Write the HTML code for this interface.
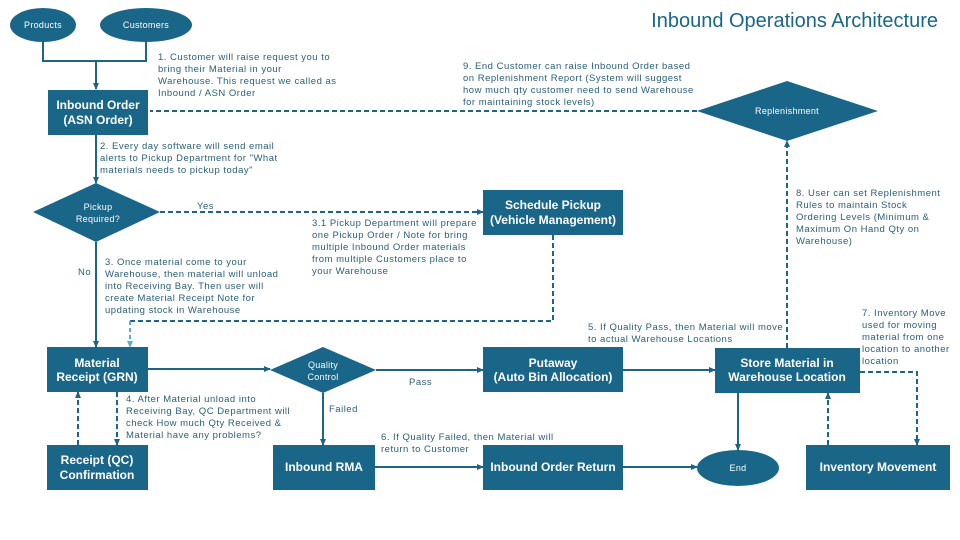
<!DOCTYPE html>
<html><head><meta charset="utf-8"><style>
body{margin:0;background:#fff}
svg{display:block;font-family:"Liberation Sans",sans-serif}
.n{fill:#1a6688}
.w{fill:#fff;font-size:9px;letter-spacing:0.3px}
.b{fill:#fff;font-size:12px;font-weight:bold;text-anchor:middle}
.t{fill:#2a5f78;font-size:9.5px;letter-spacing:0.5px}
.s{stroke:#1e6486;stroke-width:2;fill:none}
.d{stroke:#1e6486;stroke-width:2;fill:none;stroke-dasharray:5,3}
</style></head><body>
<svg width="960" height="540" viewBox="0 0 960 540">
<defs><marker id="a" markerUnits="userSpaceOnUse" markerWidth="7" markerHeight="7" refX="6" refY="3.5" orient="auto"><path d="M0,0.5L7,3.5L0,6.5z" fill="#1e6486"/></marker>
<marker id="c" markerUnits="userSpaceOnUse" markerWidth="7" markerHeight="7" refX="6" refY="3.5" orient="auto"><path d="M0,0.5L7,3.5L0,6.5z" fill="#5aaed0"/></marker></defs>
<text x="938" y="27" text-anchor="end" font-size="20" fill="#1a6688">Inbound Operations Architecture</text>
<path class="s" d="M43 42V61H146V42M96 61V89" marker-end="url(#a)"/>
<path class="d" d="M697 111H150"/>
<path class="s" d="M96 135V183" marker-end="url(#a)"/>
<path class="d" d="M160 212H483" marker-end="url(#a)"/>
<path class="d" d="M553 235V321H130"/>
<path d="M130 321V347" stroke="#5aaed0" stroke-width="2" stroke-dasharray="4,3" fill="none" marker-end="url(#c)"/>
<path class="s" d="M96 242V347" marker-end="url(#a)"/>
<path class="d" d="M78 445V392" marker-end="url(#a)"/>
<path class="d" d="M117 392V445" marker-end="url(#a)"/>
<path class="s" d="M148 369H270" marker-end="url(#a)"/>
<path class="s" d="M376 370H483" marker-end="url(#a)"/>
<path class="s" d="M323 393V445" marker-end="url(#a)"/>
<path class="s" d="M375 467H483" marker-end="url(#a)"/>
<path class="s" d="M623 467H697" marker-end="url(#a)"/>
<path class="s" d="M623 370H715" marker-end="url(#a)"/>
<path class="s" d="M738 393V450" marker-end="url(#a)"/>
<path class="d" d="M787 348V141" marker-end="url(#a)"/>
<path class="d" d="M860 372H917V445" marker-end="url(#a)"/>
<path class="d" d="M828 445V393" marker-end="url(#a)"/>
<ellipse class="n" cx="43" cy="25" rx="33" ry="17"/><text class="w" x="43" y="28" text-anchor="middle">Products</text>
<ellipse class="n" cx="146" cy="25" rx="46" ry="17"/><text class="w" x="146" y="28" text-anchor="middle">Customers</text>
<rect class="n" x="48" y="90" width="100" height="45"/><text class="b" x="98" y="109">Inbound Order</text><text class="b" x="98" y="124">(ASN Order)</text>
<polygon class="n" points="697,111 787,81 878,111 787,141"/><text class="w" x="787" y="114" text-anchor="middle">Replenishment</text>
<polygon class="n" points="33,212 96,183 160,212 96,242"/><text class="w" x="98" y="210" text-anchor="middle">Pickup</text><text class="w" x="98" y="222" text-anchor="middle">Required?</text>
<rect class="n" x="483" y="190" width="140" height="45"/><text class="b" x="553" y="209">Schedule Pickup</text><text class="b" x="553" y="224">(Vehicle Management)</text>
<rect class="n" x="47" y="347" width="101" height="45"/><text class="b" x="97" y="367" font-weight="normal">Material</text><text class="b" x="97" y="381" font-weight="normal">Receipt (GRN)</text>
<rect class="n" x="47" y="445" width="101" height="45"/><text class="b" x="97" y="464" font-weight="normal">Receipt (QC)</text><text class="b" x="97" y="479" font-weight="normal">Confirmation</text>
<polygon class="n" points="270,370 323,347 376,370 323,393"/><text class="w" x="323" y="368" text-anchor="middle">Quality</text><text class="w" x="323" y="380" text-anchor="middle">Control</text>
<rect class="n" x="483" y="347" width="140" height="45"/><text class="b" x="553" y="367" font-weight="normal">Putaway</text><text class="b" x="553" y="381" font-weight="normal">(Auto Bin Allocation)</text>
<rect class="n" x="715" y="348" width="145" height="45"/><text class="b" x="787" y="367">Store Material in</text><text class="b" x="787" y="381">Warehouse Location</text>
<rect class="n" x="273" y="445" width="102" height="45"/><text class="b" x="324" y="471">Inbound RMA</text>
<rect class="n" x="483" y="445" width="140" height="45"/><text class="b" x="553" y="471" font-weight="normal">Inbound Order Return</text>
<ellipse class="n" cx="738" cy="468" rx="41" ry="18"/><text class="w" x="738" y="471" text-anchor="middle" font-size="8">End</text>
<rect class="n" x="806" y="445" width="144" height="45"/><text class="b" x="878" y="471">Inventory Movement</text>
<g class="t">
<text x="158" y="60">1. Customer will raise request you to</text><text x="158" y="72">bring their Material in your</text><text x="158" y="84">Warehouse. This request we called as</text><text x="158" y="96">Inbound / ASN Order</text>
<text x="463" y="69">9. End Customer can raise Inbound Order based</text><text x="463" y="81">on Replenishment Report (System will suggest</text><text x="463" y="93">how much qty customer need to send Warehouse</text><text x="463" y="105">for maintaining stock levels)</text>
<text x="100" y="149">2. Every day software will send email</text><text x="100" y="161">alerts to Pickup Department for "What</text><text x="100" y="173">materials needs to pickup today"</text>
<text x="197" y="209">Yes</text><text x="78" y="275">No</text>
<text x="312" y="226">3.1 Pickup Department will prepare</text><text x="312" y="238">one Pickup Order / Note for bring</text><text x="312" y="250">multiple Inbound Order materials</text><text x="312" y="262">from multiple Customers place to</text><text x="312" y="274">your Warehouse</text>
<text x="105" y="265">3. Once material come to your</text><text x="105" y="277">Warehouse, then material will unload</text><text x="105" y="289">into Receiving Bay. Then user will</text><text x="105" y="301">create Material Receipt Note for</text><text x="105" y="313">updating stock in Warehouse</text>
<text x="796" y="196">8. User can set Replenishment</text><text x="796" y="208">Rules to maintain Stock</text><text x="796" y="220">Ordering Levels (Minimum &amp;</text><text x="796" y="232">Maximum On Hand Qty on</text><text x="796" y="244">Warehouse)</text>
<text x="588" y="330">5. If Quality Pass, then Material will move</text><text x="588" y="342">to actual Warehouse Locations</text>
<text x="862" y="316">7. Inventory Move</text><text x="862" y="328">used for moving</text><text x="862" y="340">material from one</text><text x="862" y="352">location to another</text><text x="862" y="364">location</text>
<text x="409" y="385">Pass</text><text x="329" y="412">Failed</text>
<text x="126" y="402">4. After Material unload into</text><text x="126" y="414">Receiving Bay, QC Department will</text><text x="126" y="426">check How much Qty Received &amp;</text><text x="126" y="438">Material have any problems?</text>
<text x="381" y="440">6. If Quality Failed, then Material will</text><text x="381" y="452">return to Customer</text>
</g>
</svg>
</body></html>
